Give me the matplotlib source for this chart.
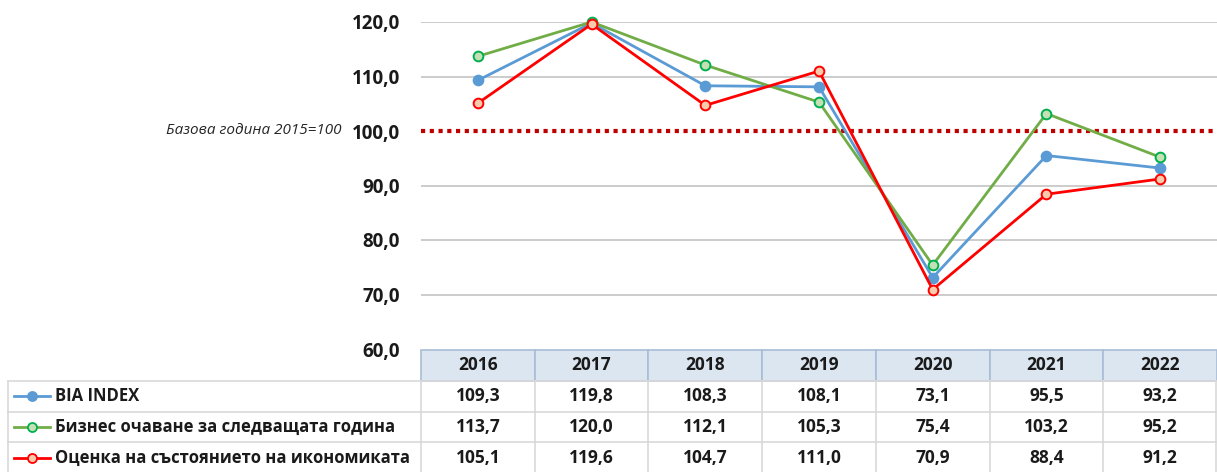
import matplotlib
matplotlib.use("Agg")
import matplotlib.pyplot as plt
from matplotlib import font_manager
from matplotlib.patches import Rectangle
from matplotlib.lines import Line2D

# pick a family that actually has a bold face with Cyrillic
family = 'DejaVu Sans'
for f in ['Open Sans', 'Lato', 'Noto Sans', 'Roboto', 'Liberation Sans']:
    try:
        path = font_manager.findfont(font_manager.FontProperties(family=f, weight='bold'),
                                     fallback_to_default=False)
    except Exception:
        continue
    if 'bold' in path.lower():
        family = f
        break
plt.rcParams['font.family'] = [family, 'DejaVu Sans']

# data
years = ['2016', '2017', '2018', '2019', '2020', '2021', '2022']
bia_index = [109.3, 119.8, 108.3, 108.1, 73.1, 95.5, 93.2]
business_expect = [113.7, 120.0, 112.1, 105.3, 75.4, 103.2, 95.2]
economy_state = [105.1, 119.6, 104.7, 111.0, 70.9, 88.4, 91.2]
series_names = ['BIA INDEX',
                'Бизнес очаване за следващата година',
                'Оценка на състоянието на икономиката']
y_ticks = [60, 70, 80, 90, 100, 110, 120]
base_value = 100
base_label = 'Базова година 2015=100'

styles = [
    dict(color='#5B9BD5', mfc='#5B9BD5', mec='#5B9BD5'),
    dict(color='#70AD47', mfc='#C5E0B4', mec='#00B050'),
    dict(color='#FF0000', mfc='#F8CBAD', mec='#FF0000'),
]

def fmt(v):
    return f'{v:.1f}'.replace('.', ',')

W, H = 1217, 472
fig = plt.figure(figsize=(W / 100, H / 100), dpi=100)

# plot area in pixels
px_left, px_right, px_top, px_bot = 421, 1217, 22, 349
ax = fig.add_axes([px_left / W, 1 - px_bot / H,
                   (px_right - px_left) / W, (px_bot - px_top) / H])
n = len(years)
x = list(range(n))
ax.set_xlim(-0.5, n - 0.5)
ax.set_ylim(y_ticks[0], y_ticks[-1])
for s in ax.spines.values():
    s.set_visible(False)
ax.set_xticks([])
ax.set_yticks(y_ticks)
ax.set_yticklabels([fmt(t) for t in y_ticks], fontsize=13.5, fontweight='bold',
                   color='#1a1a1a')
ax.tick_params(axis='y', length=0, pad=15)
for t in y_ticks[1:]:
    if t == base_value:
        continue
    ax.axhline(t, color='#C8C8C8', lw=1.3, zorder=1)
ax.axhline(base_value, color='#C00000', lw=3, ls=(0, (1, 1.1)), zorder=2)
unit_px = (px_right - px_left) / n
ax.text(-0.5 - 80 / unit_px, base_value, base_label, ha='right', va='center',
        fontsize=11, style='italic', color='#262626')

all_series = [bia_index, business_expect, economy_state]
for vals, st in zip(all_series, styles):
    ax.plot(x, vals, color=st['color'], lw=2, marker='o', ms=7,
            mfc=st['mfc'], mec=st['mec'], mew=1.4, clip_on=False, zorder=3)

# data table
tab = fig.add_axes([0, 0, 1, 1 - px_bot / H])
tab.set_xlim(0, W)
tab.set_ylim(H, px_bot)
tab.axis('off')
colw = unit_px
row_h = (H - px_bot) / 4
grid_c = '#D9D9D9'
head_c = '#A9BCD6'
txt_c = '#1a1a1a'

# header row
for i, yr in enumerate(years):
    x0 = px_left + i * colw
    tab.add_patch(Rectangle((x0, px_bot + 1), colw, row_h, fc='#DCE6F1',
                            ec=head_c, lw=1.2))
    tab.text(x0 + colw / 2, px_bot + 1 + row_h / 2, yr, ha='center',
             va='center', fontsize=12.5, fontweight='bold', color=txt_c)

label_left = 8
for r, (name, vals, st) in enumerate(zip(series_names, all_series, styles)):
    y0 = px_bot + 1 + (r + 1) * row_h
    tab.plot([label_left, px_right], [y0, y0], color=grid_c, lw=1.2)
    tab.plot([label_left, label_left], [y0, y0 + row_h], color=grid_c, lw=1.2)
    yc = y0 + row_h / 2
    tab.add_line(Line2D([14, 50], [yc, yc], color=st['color'], lw=2))
    tab.add_line(Line2D([32], [yc], marker='o', ms=6.5, mfc=st['mfc'],
                        mec=st['mec'], mew=1.3))
    tab.text(55, yc, name, ha='left', va='center', fontsize=12,
             fontweight='bold', color=txt_c)
    for i, v in enumerate(vals):
        x0 = px_left + i * colw
        tab.plot([x0, x0], [y0, y0 + row_h], color=grid_c, lw=1.2)
        tab.text(x0 + colw / 2, yc, fmt(v), ha='center', va='center',
                 fontsize=12.5, fontweight='bold', color=txt_c)
    tab.plot([px_right - 1, px_right - 1], [y0, y0 + row_h], color=grid_c, lw=1.2)

fig.savefig('out.png', dpi=100)
